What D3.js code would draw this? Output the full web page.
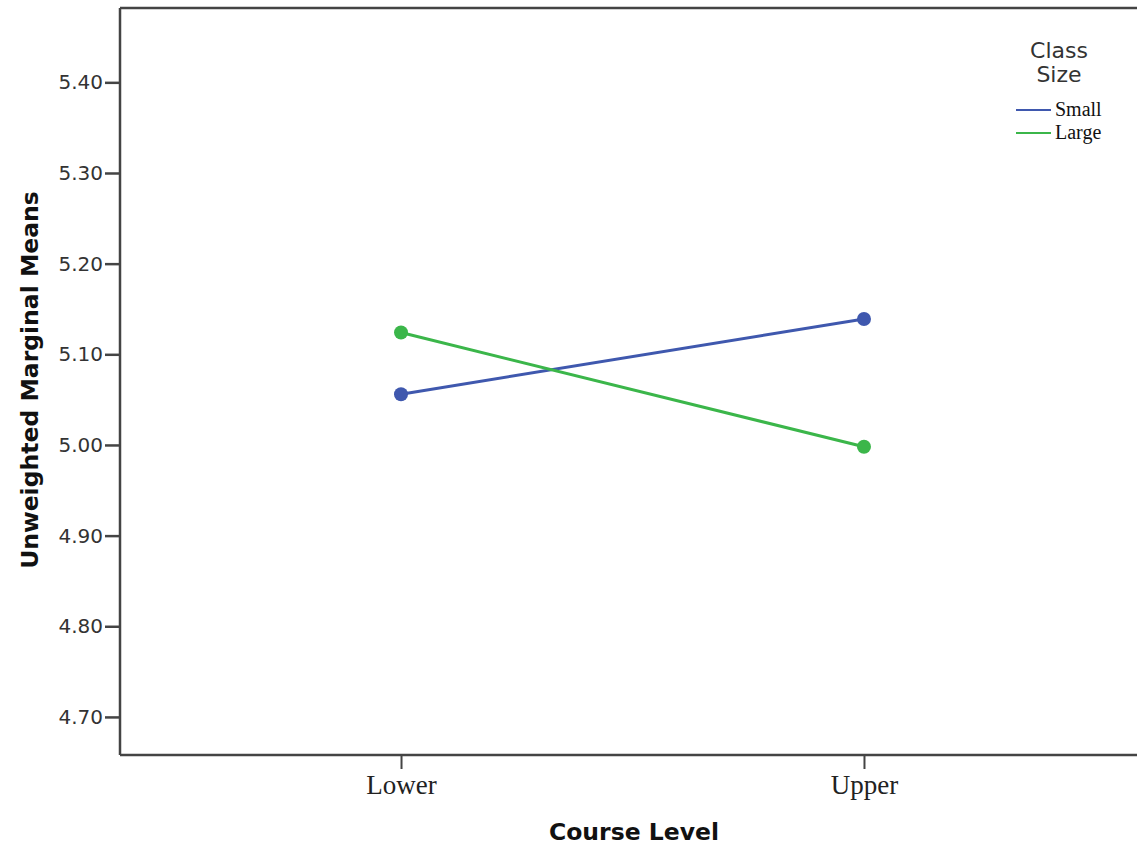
<!DOCTYPE html>
<html>
<head>
<meta charset="utf-8">
<script src="https://cdn.jsdelivr.net/npm/d3@7"></script>
<style>
  html, body { margin: 0; padding: 0; background: #fff; }
  svg { display: block; }
</style>
</head>
<body>
<svg id="chart" width="1137" height="847"></svg>
<script>
// Estimated marginal means by course level and class size
const courseLevels = ["Lower", "Upper"];
const classSizes = ["Small", "Large"];
const smallMeans = [5.056, 5.139];
const largeMeans = [5.124, 4.998];
const yTicks = [4.70, 4.80, 4.90, 5.00, 5.10, 5.20, 5.30, 5.40];
const yExtent = [4.658, 5.482];
const seriesColors = ["#3f58ae", "#3bb64a"];

const svg = d3.select("#chart");
const frame = { left: 120, top: 8, right: 1137, bottom: 755 };

const x = d3.scalePoint()
  .domain(courseLevels)
  .range([frame.left, 1145])
  .padding(0.607);

const y = d3.scaleLinear()
  .domain(yExtent)
  .range([frame.bottom, frame.top]);

const axisColor = "#444";

// Frame: top edge
svg.append("line")
  .attr("x1", frame.left).attr("x2", frame.right)
  .attr("y1", frame.top).attr("y2", frame.top)
  .attr("stroke", axisColor).attr("stroke-width", 2.5);

// Y axis
const yAxis = svg.append("g")
  .attr("transform", `translate(${frame.left},0)`)
  .call(d3.axisLeft(y).tickValues(yTicks).tickFormat(d3.format(".2f")).tickSize(15).tickPadding(2));
yAxis.select(".domain").remove();
yAxis.append("line")
  .attr("x1", 0).attr("x2", 0)
  .attr("y1", frame.top).attr("y2", frame.bottom)
  .attr("stroke", axisColor).attr("stroke-width", 2.5);
yAxis.selectAll(".tick line").attr("stroke", axisColor).attr("stroke-width", 2.5);
yAxis.selectAll(".tick text")
  .attr("fill", "#333")
  .style("font-family", "'DejaVu Sans', sans-serif")
  .style("font-size", "20px");

// X axis
const xAxis = svg.append("g")
  .attr("transform", `translate(0,${frame.bottom})`)
  .call(d3.axisBottom(x).tickSize(14).tickPadding(6));
xAxis.select(".domain").remove();
xAxis.append("line")
  .attr("x1", frame.left).attr("x2", frame.right)
  .attr("y1", 0).attr("y2", 0)
  .attr("stroke", axisColor).attr("stroke-width", 2.5);
xAxis.selectAll(".tick line").attr("stroke", axisColor).attr("stroke-width", 2);
xAxis.selectAll(".tick text")
  .attr("fill", "#222")
  .style("font-family", "'Liberation Serif', serif")
  .style("font-size", "27px");

// Axis titles
svg.append("text")
  .attr("x", 634).attr("y", 840)
  .attr("text-anchor", "middle")
  .style("font-family", "'DejaVu Sans', sans-serif")
  .style("font-weight", "bold")
  .style("font-size", "23.5px")
  .attr("fill", "#111")
  .text("Course Level");

svg.append("text")
  .attr("transform", "translate(38,380) rotate(-90)")
  .attr("text-anchor", "middle")
  .style("font-family", "'DejaVu Sans', sans-serif")
  .style("font-weight", "bold")
  .style("font-size", "23.5px")
  .attr("fill", "#111")
  .text("Unweighted Marginal Means");

// Series lines and markers
const series = [
  { name: classSizes[0], values: smallMeans, color: seriesColors[0] },
  { name: classSizes[1], values: largeMeans, color: seriesColors[1] }
];

const line = d3.line()
  .x((d, i) => x(courseLevels[i]))
  .y(d => y(d));

const g = svg.append("g");
series.forEach(s => {
  g.append("path")
    .datum(s.values)
    .attr("d", line)
    .attr("fill", "none")
    .attr("stroke", s.color)
    .attr("stroke-width", 3);
  g.selectAll(null)
    .data(s.values)
    .enter().append("circle")
    .attr("cx", (d, i) => x(courseLevels[i]))
    .attr("cy", d => y(d))
    .attr("r", 7)
    .attr("fill", s.color);
});

// Legend
const legend = svg.append("g");
legend.append("text")
  .attr("x", 1059).attr("y", 58)
  .attr("text-anchor", "middle")
  .style("font-family", "'DejaVu Sans', sans-serif")
  .style("font-size", "22px")
  .attr("fill", "#333")
  .text("Class");
legend.append("text")
  .attr("x", 1059).attr("y", 82)
  .attr("text-anchor", "middle")
  .style("font-family", "'DejaVu Sans', sans-serif")
  .style("font-size", "22px")
  .attr("fill", "#333")
  .text("Size");

series.forEach((s, i) => {
  const ly = 110 + i * 23;
  legend.append("line")
    .attr("x1", 1016).attr("x2", 1051)
    .attr("y1", ly).attr("y2", ly)
    .attr("stroke", s.color).attr("stroke-width", 2);
  legend.append("text")
    .attr("x", 1055).attr("y", ly + 6)
    .style("font-family", "'Liberation Serif', serif")
    .style("font-size", "20px")
    .attr("fill", "#111")
    .text(s.name);
});
</script>
</body>
</html>
